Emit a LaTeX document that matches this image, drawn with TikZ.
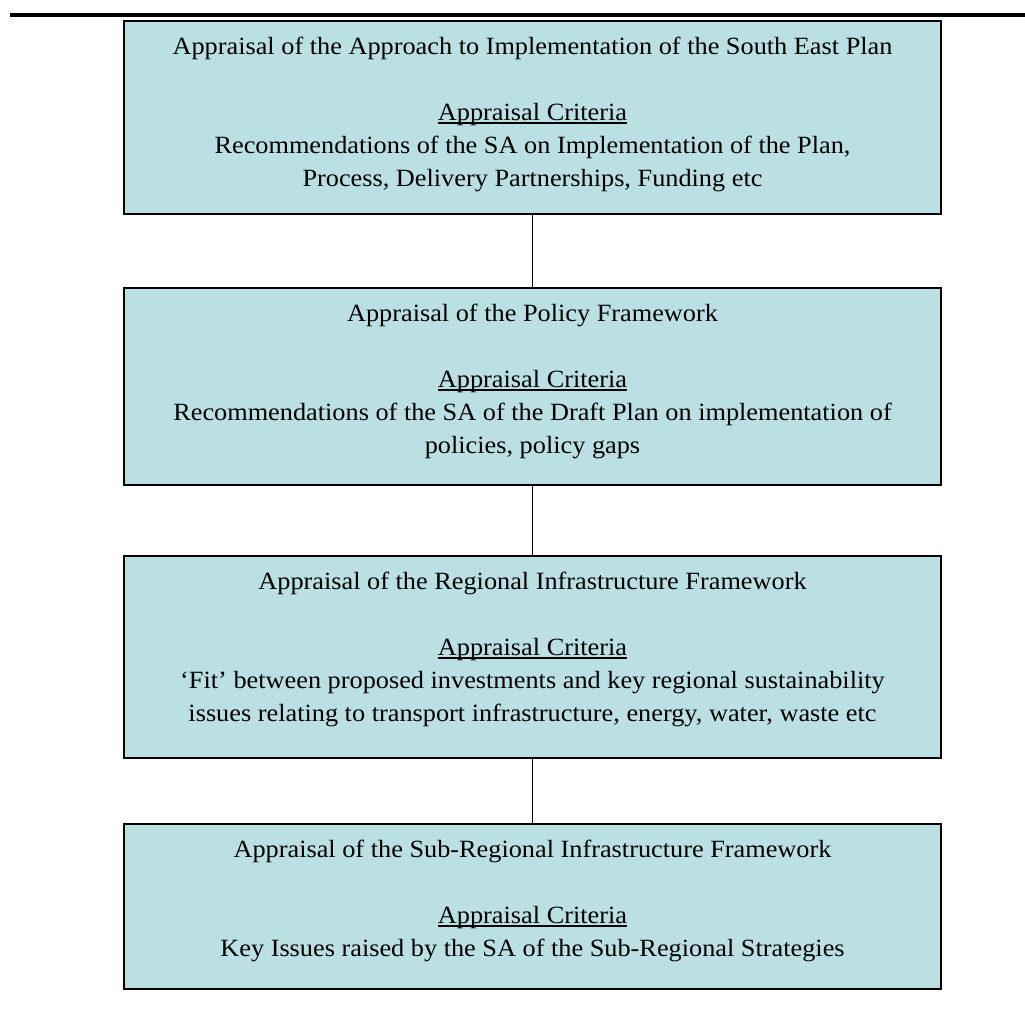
\documentclass[tikz,border=0pt]{standalone}
\usepackage{fontspec}
\setmainfont{Liberation Serif}[FakeStretch=1.06]
\definecolor{boxfill}{RGB}{186,224,228}
\tikzset{
  apbox/.style={draw=black, line width=1.9pt, fill=boxfill, rectangle, minimum width=817pt, inner sep=0pt, anchor=north},
  txt/.style={anchor=base, inner sep=0pt, font=\fontsize{24.8}{33}\selectfont},
  conn/.style={draw=black, line width=1.8pt},
  uline/.style={line width=1.3pt}
}
\begin{document}
\begin{tikzpicture}[x=1pt,y=-1pt]
\useasboundingbox (0,0) rectangle (1025,1012);
% top rule
\coordinate (ruleL) at (10,15.3);
\coordinate (ruleR) at (1025,15.3);
\draw[line width=4pt] (ruleL) -- (ruleR);

% boxes
\node[apbox, minimum height=193pt] (b1) at (532.5,20) {};
\node[apbox, minimum height=197pt] (b2) at (532.5,287) {};
\node[apbox, minimum height=202pt] (b3) at (532.5,555) {};
\node[apbox, minimum height=165pt] (b4) at (532.5,823) {};

% connectors
\draw[conn] (b1.south) -- (b2.north);
\draw[conn] (b2.south) -- (b3.north);
\draw[conn] (b3.south) -- (b4.north);

% box 1 text
\node[txt] (t1a) at (532.5,54) {Appraisal of the Approach to Implementation of the South East Plan};
\node[txt] (t1b) at (532.5,120) {Appraisal Criteria};
\node[txt] (t1c) at (532.5,153) {Recommendations of the SA on Implementation of the Plan,};
\node[txt] (t1d) at (532.5,186) {Process, Delivery Partnerships, Funding etc};
\draw[uline] ([yshift=-3pt]t1b.base west) -- ([yshift=-3pt]t1b.base east);

% box 2 text
\node[txt] (t2a) at (532.5,321) {Appraisal of the Policy Framework};
\node[txt] (t2b) at (532.5,387) {Appraisal Criteria};
\node[txt] (t2c) at (532.5,420) {Recommendations of the SA of the Draft Plan on implementation of};
\node[txt] (t2d) at (532.5,453) {policies, policy gaps};
\draw[uline] ([yshift=-3pt]t2b.base west) -- ([yshift=-3pt]t2b.base east);

% box 3 text
\node[txt] (t3a) at (532.5,589) {Appraisal of the Regional Infrastructure Framework};
\node[txt] (t3b) at (532.5,655) {Appraisal Criteria};
\node[txt] (t3c) at (532.5,688) {‘Fit’ between proposed investments and key regional sustainability};
\node[txt] (t3d) at (532.5,721) {issues relating to transport infrastructure, energy, water, waste etc};
\draw[uline] ([yshift=-3pt]t3b.base west) -- ([yshift=-3pt]t3b.base east);

% box 4 text
\node[txt] (t4a) at (532.5,857) {Appraisal of the Sub-Regional Infrastructure Framework};
\node[txt] (t4b) at (532.5,923) {Appraisal Criteria};
\node[txt] (t4c) at (532.5,956) {Key Issues raised by the SA of the Sub-Regional Strategies};
\draw[uline] ([yshift=-3pt]t4b.base west) -- ([yshift=-3pt]t4b.base east);
\end{tikzpicture}
\end{document}
